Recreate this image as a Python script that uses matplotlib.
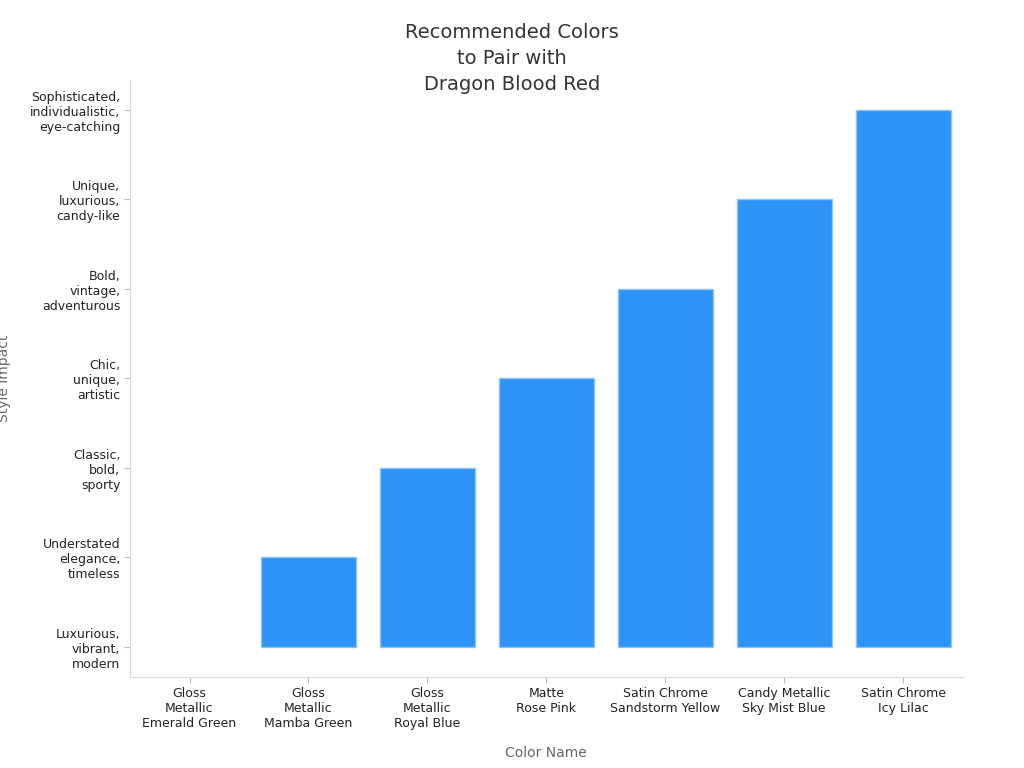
import matplotlib.pyplot as plt

colors = ["Gloss\nMetallic\nEmerald Green", "Gloss\nMetallic\nMamba Green",
          "Gloss\nMetallic\nRoyal Blue", "Matte\nRose Pink",
          "Satin Chrome\nSandstorm Yellow", "Candy Metallic\nSky Mist Blue",
          "Satin Chrome\nIcy Lilac"]
impact_levels = ["Luxurious,\nvibrant,\nmodern", "Understated\nelegance,\ntimeless",
                 "Classic,\nbold,\nsporty", "Chic,\nunique,\nartistic",
                 "Bold,\nvintage,\nadventurous", "Unique,\nluxurious,\ncandy-like",
                 "Sophisticated,\nindividualistic,\neye-catching"]
impact = [0, 1, 2, 3, 4, 5, 6]

fig = plt.figure(figsize=(10.24, 7.68), dpi=100)
ax = fig.add_axes([0.127, 0.1185, 0.813, 0.7775])
widths = [1 if v > 0 else 0 for v in impact]
ax.bar(range(len(colors)), impact, width=0.8, color="#2E93F7", edgecolor="#8EC3FA", linewidth=widths)
ax.set_xlim(-0.5, 6.5)
ax.set_ylim(-0.335, 6.335)
ax.set_xticks(range(len(colors)))
ax.set_xticklabels(colors, fontsize=9, color="#222222")
ax.set_yticks(range(len(impact_levels)))
ax.set_yticklabels(impact_levels, fontsize=9, color="#222222")
for s in ["top", "right"]:
    ax.spines[s].set_visible(False)
for s in ["left", "bottom"]:
    ax.spines[s].set_color("#d9d9d9")
ax.tick_params(colors="#bbbbbb", labelcolor="#222222", length=4, pad=3)
ax.set_xlabel("Color Name", fontsize=10, color="#666666", labelpad=12)
ax.set_ylabel("Style Impact", fontsize=10, color="#666666")
ax.yaxis.set_label_coords(-0.143, 0.5)
fig.suptitle("Recommended Colors\nto Pair with\nDragon Blood Red", fontsize=14, color="#333333",
             y=0.97, linespacing=1.45)
fig.savefig("out.png")
